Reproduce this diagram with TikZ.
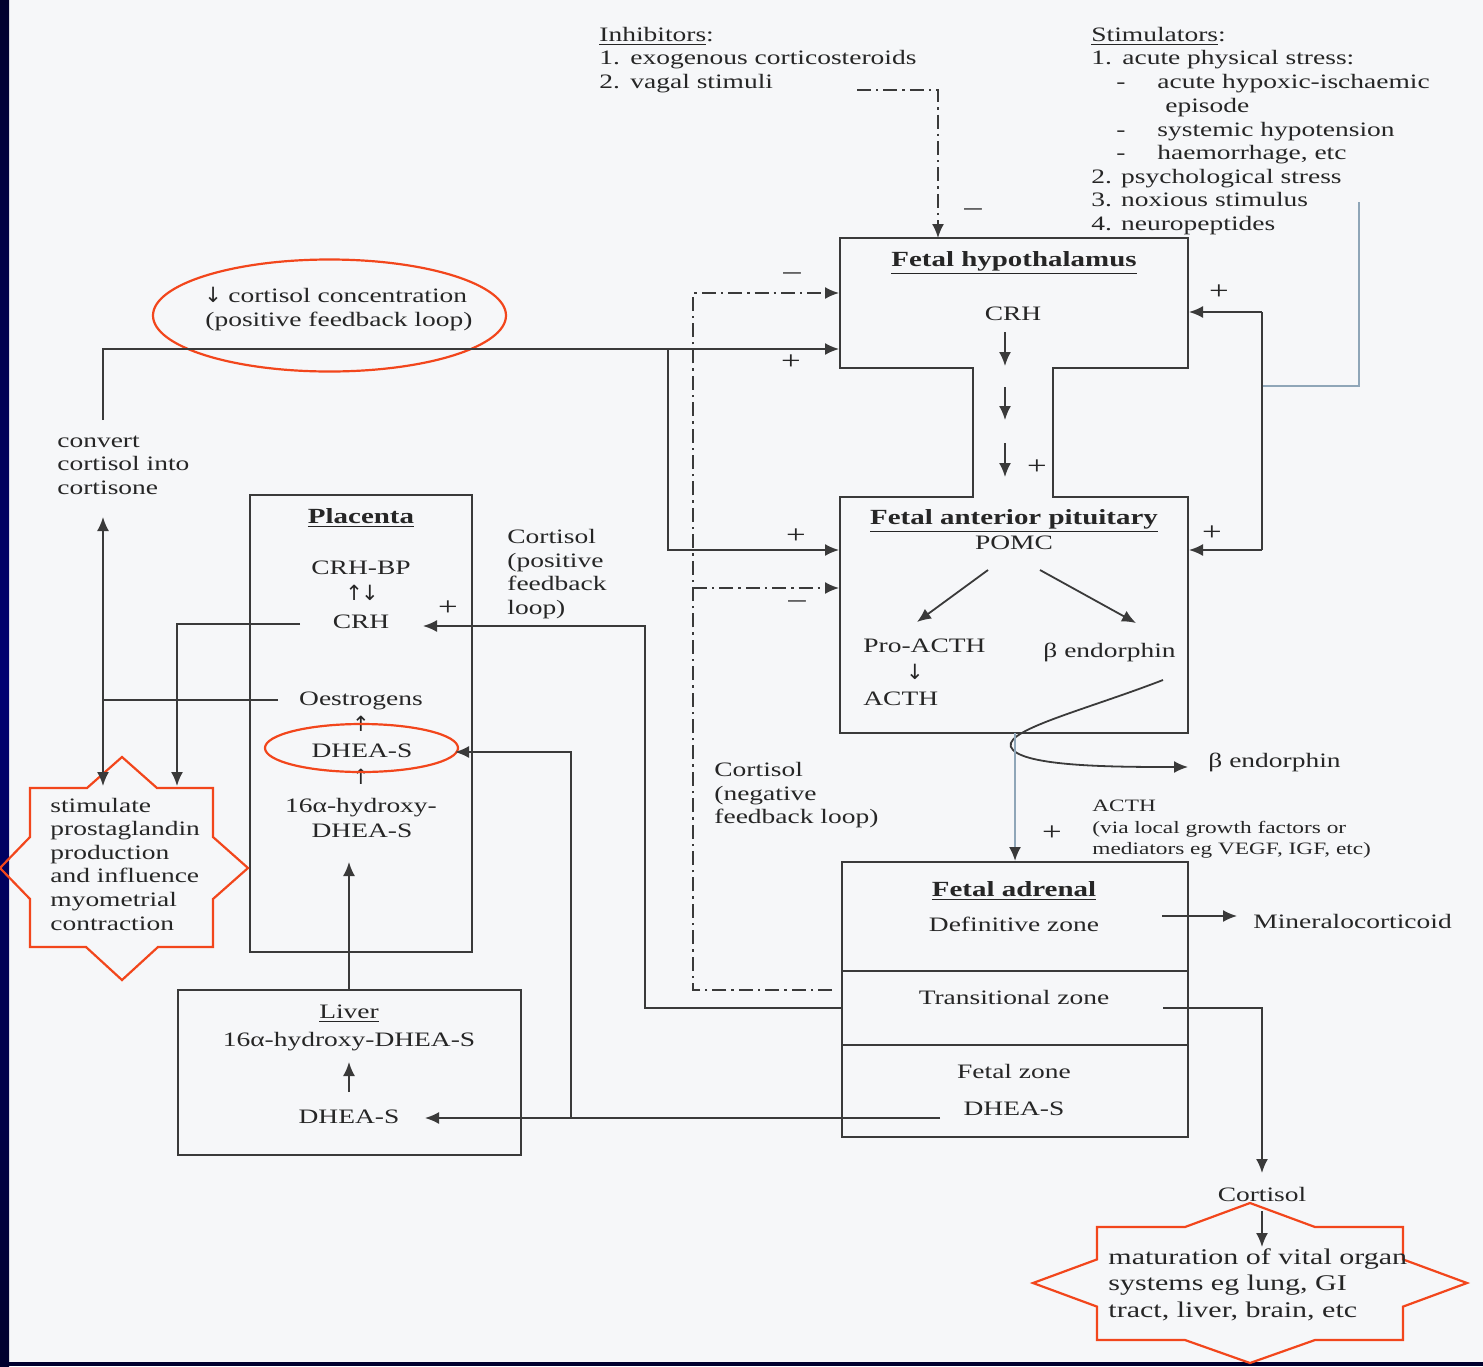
\documentclass[tikz,border=0pt]{standalone}
\usepackage{fontspec}
\setmainfont{Liberation Serif}[FakeStretch=1.34]
\newfontfamily\arrfont{DejaVu Sans}
\usetikzlibrary{arrows.meta}
\definecolor{ink}{HTML}{262626}
\definecolor{lnc}{HTML}{3A3A3A}
\definecolor{starred}{HTML}{F2461C}
\definecolor{stimc}{HTML}{8FA6B8}
\definecolor{bgc}{HTML}{F6F7F9}
\definecolor{navyA}{HTML}{00002E}
\definecolor{navyB}{HTML}{000072}
\begin{document}
\begin{tikzpicture}[x=0.5pt,y=-0.5pt,
 txt/.style={font=\fontsize{10.25pt}{11.75pt}\selectfont,text=ink,inner sep=0pt},
 sml/.style={font=\fontsize{8.7pt}{10.5pt}\selectfont,text=ink,inner sep=0pt},
 big/.style={font=\fontsize{11.2pt}{13.25pt}\selectfont,text=ink,inner sep=0pt},
 ttl/.style={font=\fontsize{10.8pt}{12pt}\selectfont\bfseries,text=ink,inner sep=0pt},
 sgn/.style={font=\fontsize{13pt}{14pt}\selectfont,text=ink,inner sep=0pt},
 arw/.style={font=\fontsize{10.5pt}{12pt}\selectfont\arrfont,text=ink,inner sep=0pt},
 ln/.style={draw=lnc,line width=0.9pt},
 arr/.style={ln,-{Latex[length=7pt,width=6pt]}},
 dd/.style={ln,dash pattern=on 7pt off 2.5pt on 1.2pt off 2.5pt},
 ddarr/.style={dd,-{Latex[length=7pt,width=6pt]}},
 boxln/.style={draw=lnc,line width=0.9pt},
 redln/.style={draw=starred,line width=1.1pt},
]
\useasboundingbox (0,0) rectangle (1483,1366);
\fill[bgc] (0,0) rectangle (1483,1366);
\shade[top color=navyA,bottom color=navyA,middle color=navyB] (0,0) rectangle (9,1366);
\fill[navyA] (0,1362) rectangle (1483,1366);

% ---------- Inhibitors ----------
\node[txt,anchor=base west] (inh)  at (599,41) {\underline{Inhibitors}:};
\node[txt,anchor=base west] (inh1) at (599,64) {\makebox[15.5pt][l]{1.}exogenous corticosteroids};
\node[txt,anchor=base west] (inh2) at (599,88) {\makebox[15.5pt][l]{2.}vagal stimuli};

% ---------- Stimulators ----------
\node[txt,anchor=base west] (sti)  at (1091,41) {\underline{Stimulators}:};
\node[txt,anchor=base west] (sti1) at (1091,64) {\makebox[15.5pt][l]{1.}acute physical stress:};
\node[txt,anchor=base west] (sti1a) at (1116,88) {\makebox[20.5pt][l]{-}acute hypoxic-ischaemic};
\node[txt,anchor=base west] (sti1b) at (1165,112) {episode};
\node[txt,anchor=base west] (sti1c) at (1116,136) {\makebox[20.5pt][l]{-}systemic hypotension};
\node[txt,anchor=base west] (sti1d) at (1116,159) {\makebox[20.5pt][l]{-}haemorrhage, etc};
\node[txt,anchor=base west] (sti2) at (1091,183) {2. psychological stress};
\node[txt,anchor=base west] (sti3) at (1091,206) {3. noxious stimulus};
\node[txt,anchor=base west] (sti4) at (1091,230) {4. neuropeptides};

% ---------- Hypothalamus + pituitary outline ----------
\draw[boxln] (840,238) -- (1188,238) -- (1188,368) -- (1053,368) -- (1053,497) -- (1188,497)
  -- (1188,733) -- (840,733) -- (840,497) -- (973,497) -- (973,368) -- (840,368) -- cycle;
\coordinate (hypTop) at (938,238);
\coordinate (hypWa) at (839,293);
\coordinate (hypWb) at (839,349);
\coordinate (hypE) at (1189,312);
\coordinate (pitWa) at (839,550);
\coordinate (pitWb) at (839,588);
\coordinate (pitE) at (1189,550);
\coordinate (pitS) at (1015,733);

\node[ttl,anchor=base] (hyp) at (1014,266) {\underline{Fetal hypothalamus}};
\node[txt,anchor=base] (crh) at (1013,320) {CRH};
\coordinate (c1a) at (1005,332); \coordinate (c1b) at (1005,366);
\coordinate (c2a) at (1005,387); \coordinate (c2b) at (1005,420);
\coordinate (c3a) at (1005,443); \coordinate (c3b) at (1005,477);
\draw[arr] (c1a) -- (c1b);
\draw[arr] (c2a) -- (c2b);
\draw[arr] (c3a) -- (c3b);
\node[sgn] (pl1) at (1037,467) {+};

\node[ttl,anchor=base] (pit) at (1014,524) {\underline{Fetal anterior pituitary}};
\node[txt,anchor=base] (pomc) at (1014,549) {POMC};
\node[txt,anchor=base west] (proacth) at (863,652) {Pro-ACTH};
\node[arw,anchor=base] (dn1) at (915,679) {↓};
\node[txt,anchor=base west] (acth) at (863,705) {ACTH};
\node[txt,anchor=base west] (bend) at (1043,657) {β endorphin};
\coordinate (pa) at (988,570); \coordinate (pb) at (917,622);
\coordinate (pc) at (1040,570); \coordinate (pd) at (1136,623);
\draw[arr] (pa) -- (pb);
\draw[arr] (pc) -- (pd);

% beta endorphin out
\node[txt,anchor=base west] (bend2) at (1208,767) {β endorphin};
\coordinate (bs) at (1163,680);
\coordinate (be) at (1188,767);
\draw[arr] (bs) .. controls (1080,712) and (995,732) .. (1013,750)
  .. controls (1030,767) and (1120,767) .. (be);

% ACTH to adrenal
\draw[draw=stimc,line width=1pt,-{Latex[length=7pt,width=6pt,color=lnc]}] (pitS) -- (1015,861);
\node[sml,anchor=base west] (al1) at (1092,811) {ACTH};
\node[sml,anchor=base west] (al2) at (1092,833) {(via local growth factors or};
\node[sml,anchor=base west] (al3) at (1092,854) {mediators eg VEGF, IGF, etc)};
\node[sgn] (pl2) at (1052,833) {+};

% inhibitor arrow
\coordinate (inhS) at (857,90); \coordinate (inhC) at (938,90);
\draw[ddarr] (inhS) -- (inhC) -- (hypTop);
\node[sgn] (mi1) at (973,212) {–};

% stimulator line
\coordinate (stA) at (1359,202); \coordinate (stB) at (1359,386); \coordinate (stC) at (1262,386);
\coordinate (stU) at (1262,312); \coordinate (stD) at (1262,550);
\draw[draw=stimc,line width=1pt] (stA) -- (stB) -- (stC);
\draw[ln] (stU) -- (stD);
\draw[arr] (stU) -- (hypE);
\draw[arr] (stD) -- (pitE);
\node[sgn] (pl3) at (1219,292) {+};
\node[sgn] (pl4) at (1212,533) {+};

% ---------- Adrenal ----------
\draw[boxln] (842,862) rectangle (1188,1137);
\draw[boxln] (842,971) -- (1188,971);
\draw[boxln] (842,1045) -- (1188,1045);
\node[ttl,anchor=base] (adr) at (1014,896) {\underline{Fetal adrenal}};
\node[txt,anchor=base] (defz) at (1014,931) {Definitive zone};
\node[txt,anchor=base west] (mineral) at (1253,928) {Mineralocorticoid};
\coordinate (dzA) at (1162,916); \coordinate (dzB) at (1237,916);
\draw[arr] (dzA) -- (dzB);
\node[txt,anchor=base] (trz) at (1014,1004) {Transitional zone};
\node[txt,anchor=base] (fz) at (1014,1078) {Fetal zone};
\node[txt,anchor=base] (fzd) at (1014,1115) {DHEA-S};
\node[txt,anchor=base] (cort) at (1262,1201) {Cortisol};
\coordinate (tzA) at (1163,1008); \coordinate (tzB) at (1262,1008); \coordinate (tzC) at (1262,1173);
\draw[arr] (tzA) -- (tzB) -- (tzC);
\coordinate (coA) at (1262,1211); \coordinate (coB) at (1262,1247);
\draw[arr] (coA) -- (coB);

% ---------- Right star ----------
\draw[redln] (1097,1227) -- (1185,1227) -- (1250,1203) -- (1315,1227) -- (1403,1227) -- (1403,1259.4)
 -- (1467,1283) -- (1403,1306.6) -- (1403,1340) -- (1315,1340) -- (1250,1363) -- (1185,1340)
 -- (1097,1340) -- (1097,1306.6) -- (1033,1283) -- (1097,1259.4) -- cycle;
\node[big,anchor=base west] (rs1) at (1108,1264) {maturation of vital organ};
\node[big,anchor=base west] (rs2) at (1108,1290.5) {systems eg lung, GI};
\node[big,anchor=base west] (rs3) at (1108,1317) {tract, liver, brain, etc};

% ---------- Top-left ellipse ----------
\draw[redln] (329.5,315.5) ellipse [x radius=88.25pt,y radius=28pt];
\node[arw,anchor=base west] (cc0) at (204,302) {↓};
\node[txt,anchor=base west] (cc1) at (228,302) {cortisol concentration};
\node[txt,anchor=base west] (cc2) at (205,326) {(positive feedback loop)};

% convert
\node[txt,anchor=base west] (cv1) at (57,447) {convert};
\node[txt,anchor=base west] (cv2) at (57,470) {cortisol into};
\node[txt,anchor=base west] (cv3) at (57,494) {cortisone};

% ---------- Placenta ----------
\draw[boxln] (250,495) rectangle (472,952);
\node[ttl,anchor=base] (plac) at (361,523) {\underline{Placenta}};
\node[txt,anchor=base] (crhbp) at (361,574) {CRH-BP};
\node[arw,anchor=base] (ud) at (362,600) {↑\kern-1pt↓};
\node[txt,anchor=base] (pcrh) at (361,628) {CRH};
\node[sgn] (pl5) at (448,608) {+};
\node[txt,anchor=base] (oest) at (361,705) {Oestrogens};
\node[arw,anchor=base] (up1) at (361,731) {↑};
\node[txt,anchor=base] (pdh) at (362,757) {DHEA-S};
\node[arw,anchor=base] (up2) at (361,784) {↑};
\node[txt,anchor=base] (hy1) at (361,812) {16α-hydroxy-};
\node[txt,anchor=base] (hy2) at (362,837) {DHEA-S};
\draw[redln] (361.5,748) ellipse [x radius=48.25pt,y radius=12pt];

% ---------- Liver ----------
\draw[boxln] (178,990) rectangle (521,1155);
\node[txt,anchor=base] (liv) at (349,1018) {\underline{Liver}};
\node[txt,anchor=base] (lhy) at (349,1046) {16α-hydroxy-DHEA-S};
\node[txt,anchor=base] (ldh) at (349,1123) {DHEA-S};
\coordinate (lvA) at (349,1092); \coordinate (lvB) at (349,1062);
\draw[arr] (lvA) -- (lvB);

% ---------- Left star ----------
\draw[redln] (30,788) -- (87,788) -- (122,757) -- (157,788) -- (213,788) -- (213,837) -- (248,868)
 -- (213,899) -- (213,947) -- (158,947) -- (122,980) -- (86,947) -- (30,947) -- (30,899)
 -- (0,868) -- (30,837) -- cycle;
\node[txt,anchor=base west] (ls1) at (50,812) {stimulate};
\node[txt,anchor=base west] (ls2) at (50,835.6) {prostaglandin};
\node[txt,anchor=base west] (ls3) at (50,859.2) {production};
\node[txt,anchor=base west] (ls4) at (50,882.8) {and influence};
\node[txt,anchor=base west] (ls5) at (50,906.4) {myometrial};
\node[txt,anchor=base west] (ls6) at (50,930) {contraction};

% ---------- Labels ----------
\node[txt,anchor=base west] (cp1) at (507,543) {Cortisol};
\node[txt,anchor=base west] (cp2) at (507,567) {(positive};
\node[txt,anchor=base west] (cp3) at (507,590) {feedback};
\node[txt,anchor=base west] (cp4) at (507,614) {loop)};
\node[txt,anchor=base west] (cn1) at (714,776) {Cortisol};
\node[txt,anchor=base west] (cn2) at (714,800) {(negative};
\node[txt,anchor=base west] (cn3) at (714,823) {feedback loop)};

% ---------- Connectors ----------
\coordinate (pfA) at (103,420); \coordinate (pfB) at (103,349); \coordinate (pfJ) at (668,349);
\coordinate (pfK) at (668,550);
\draw[arr] (pfA) -- (pfB) -- (hypWb);
\draw[arr] (pfJ) -- (pfK) -- (pitWa);
\node[sgn] (pl6) at (791,362) {+};
\node[sgn] (pl7) at (796,536) {+};

\coordinate (nfA) at (832,990); \coordinate (nfB) at (693,990); \coordinate (nfC) at (693,293);
\coordinate (nfJ) at (693,588);
\draw[ddarr] (nfA) -- (nfB) -- (nfC) -- (hypWa);
\draw[ddarr] (nfJ) -- (pitWb);
\node[sgn] (mi2) at (792,276) {–};
\node[sgn] (mi3) at (797,604) {–};

\coordinate (tpA) at (842,1008); \coordinate (tpB) at (645,1008); \coordinate (tpC) at (645,626);
\coordinate (tpD) at (423,626);
\draw[arr] (tpA) -- (tpB) -- (tpC) -- (tpD);

\coordinate (fdA) at (940,1118); \coordinate (fdB) at (425,1118); \coordinate (fdJ) at (571,1118);
\coordinate (fdK) at (571,752); \coordinate (fdL) at (455,752);
\draw[arr] (fdA) -- (fdB);
\draw[arr] (fdJ) -- (fdK) -- (fdL);

\coordinate (lpA) at (349,990); \coordinate (lpB) at (349,862);
\draw[arr] (lpA) -- (lpB);

\coordinate (csA) at (300,624); \coordinate (csB) at (177,624); \coordinate (csC) at (177,786);
\draw[arr] (csA) -- (csB) -- (csC);

\coordinate (oeA) at (278,700); \coordinate (oeB) at (103,700);
\coordinate (vtA) at (103,517); \coordinate (vtB) at (103,786);
\draw[ln] (oeA) -- (oeB);
\draw[ln,{Latex[length=7pt,width=6pt]}-{Latex[length=7pt,width=6pt]}] (vtA) -- (vtB);
\end{tikzpicture}
\end{document}
